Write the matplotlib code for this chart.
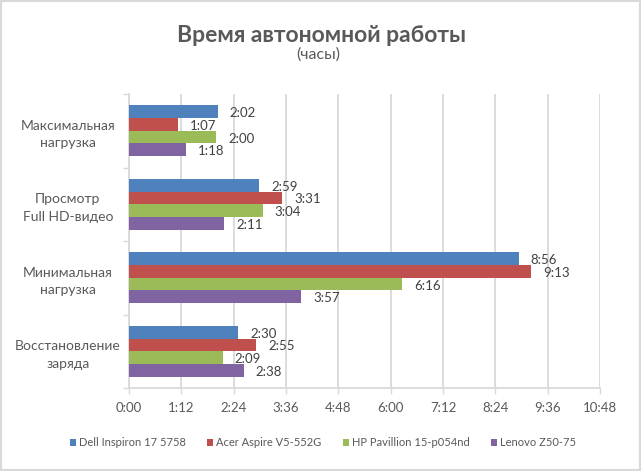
import matplotlib
matplotlib.use("Agg")
import matplotlib.pyplot as plt
from matplotlib.patches import Rectangle

plt.rcParams['font.family'] = ['Lato', 'DejaVu Sans']

categories = ["Максимальная\nнагрузка", "Просмотр\nFull HD-видео",
              "Минимальная\nнагрузка", "Восстановление\nзаряда"]
series_names = ["Dell Inspiron 17 5758", "Acer Aspire V5-552G",
                "HP Pavillion 15-p054nd", "Lenovo Z50-75"]
# values in minutes
dell = [122, 179, 536, 150]
acer = [67, 211, 553, 175]
hp = [120, 184, 376, 129]
lenovo = [78, 131, 237, 158]
series_values = [dell, acer, hp, lenovo]
colors = ["#4F81BD", "#C0504D", "#9BBB59", "#8064A2"]
xticks = [0, 72, 144, 216, 288, 360, 432, 504, 576, 648]

def fmt(m):
    m = int(round(m))
    return f"{m // 60}:{m % 60:02d}"

W, H = 641, 471
fig = plt.figure(figsize=(W / 100, H / 100), dpi=100)
ax = fig.add_axes([129 / W, 1 - 388 / H, (600 - 129) / W, (388 - 94) / H])

bar_h = 0.173
n = len(series_names)
for i, (name, vals, col) in enumerate(zip(series_names, series_values, colors)):
    ys = [c + (i - (n - 1) / 2) * bar_h for c in range(len(categories))]
    ax.barh(ys, vals, height=bar_h, color=col, label=name, zorder=3)
    for y, v in zip(ys, vals):
        ax.annotate(fmt(v), (v, y), xytext=(12, -1.5), textcoords='offset pixels',
                    ha='left', va='center', fontsize=9.5, color='#404040', zorder=4)

ax.set_ylim(len(categories) - 0.5, -0.5)
ax.set_xlim(0, 648)
ax.set_yticks(range(len(categories)))
ax.set_yticklabels(categories, fontsize=10, color='#595959', ha='center',
                   linespacing=1.55)
ax.tick_params(axis='y', length=0, pad=44)
ax.set_yticks([c - 0.5 for c in range(len(categories) + 1)], minor=True)
ax.tick_params(axis='y', which='minor', length=4, color='#d9d9d9', width=1)
ax.set_xticks(xticks)
ax.set_xticklabels([fmt(t) for t in xticks], fontsize=9.5, color='#595959')
ax.tick_params(axis='x', length=4, color='#d9d9d9', width=1, pad=6)
ax.grid(axis='x', color='#d9d9d9', linewidth=1.3, zorder=0)
for s in ['top', 'right']:
    ax.spines[s].set_visible(False)
for s in ['left', 'bottom']:
    ax.spines[s].set_color('#d9d9d9')
    ax.spines[s].set_linewidth(1.3)

fig.text(322 / W, 1 - 36 / H, "Время автономной работы", ha='center', va='center',
         fontsize=16.5, fontweight='bold', color='#595959')
fig.text(318 / W, 1 - 55 / H, "(часы)", ha='center', va='center',
         fontsize=11.5, color='#595959')

leg = fig.legend(loc='center', bbox_to_anchor=(323 / W, 1 - 443 / H), ncol=4,
                 frameon=False, fontsize=8.0, handlelength=0.55, handleheight=0.55,
                 handletextpad=0.3, columnspacing=1.9)
for t in leg.get_texts():
    t.set_color('#595959')

fig.patches.append(Rectangle((0, 0), 1, 1, transform=fig.transFigure, fill=False,
                             edgecolor='#d9d9d9', linewidth=3, zorder=10))

fig.savefig("out.png", dpi=100, facecolor='white')
